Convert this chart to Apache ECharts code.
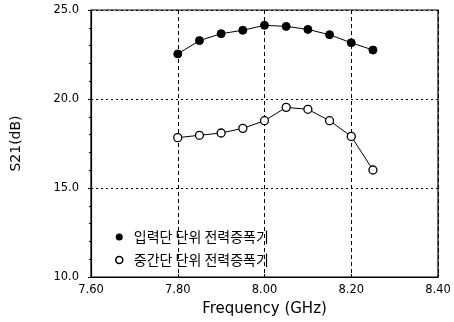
<!DOCTYPE html>
<html><head><meta charset="utf-8">
<script src="https://cdn.jsdelivr.net/npm/echarts@6/dist/echarts.min.js"></script>
<style>html,body{margin:0;padding:0;background:#fff}#c{width:454px;height:322px}</style>
</head><body><div id="c"></div>
<script>
const freq = [7.80, 7.85, 7.90, 7.95, 8.00, 8.05, 8.10, 8.15, 8.20, 8.25];
const inputStage = [22.53, 23.28, 23.67, 23.86, 24.14, 24.08, 23.91, 23.61, 23.16, 22.75];
const midStage = [17.83, 17.96, 18.09, 18.35, 18.78, 19.53, 19.42, 18.78, 17.90, 16.01];
const seriesNames = ['입력단 단위 전력증폭기', '중간단 단위 전력증폭기'];
const xTicks = [7.6, 7.8, 8.0, 8.2, 8.4];
const yTicks = [10, 15, 20, 25];

const chart = echarts.init(document.getElementById('c'));
const font = 'DejaVu Sans';
chart.setOption({
  animation: false,
  backgroundColor: '#fff',
  grid: {left: 91, right: 16, top: 10, bottom: 45, show: true, borderColor: '#000', borderWidth: 1.2},
  xAxis: {
    type: 'value', min: xTicks[0], max: xTicks[xTicks.length - 1], interval: 0.2,
    name: 'Frequency (GHz)', nameLocation: 'middle', nameGap: 25,
    nameTextStyle: {fontFamily: font, fontSize: 15, color: '#000'},
    axisLine: {lineStyle: {color: '#000', width: 1.2}},
    axisTick: {show: true, inside: true, length: 3, lineStyle: {color: '#000'}},
    axisLabel: {fontFamily: font, fontSize: 11.5, color: '#000', margin: 7, formatter: v => v.toFixed(2)},
    splitLine: {show: true, lineStyle: {color: '#000', type: [4, 3], width: 1}}
  },
  yAxis: {
    type: 'value', min: yTicks[0], max: yTicks[yTicks.length - 1], interval: 5,
    name: 'S21(dB)', nameLocation: 'middle', nameGap: 68, nameRotate: 90,
    nameTextStyle: {fontFamily: font, fontSize: 14, color: '#000'},
    axisLine: {lineStyle: {color: '#000', width: 1.2}},
    axisTick: {show: true, inside: false, length: 3, lineStyle: {color: '#000'}},
    minorTick: {show: true, splitNumber: 5, length: 2, lineStyle: {color: '#000'}},
    axisLabel: {fontFamily: font, fontSize: 11.5, color: '#000', margin: 12, formatter: v => v.toFixed(1)},
    splitLine: {show: true, lineStyle: {color: '#000', type: [2, 3], width: 1}}
  },
  legend: {
    orient: 'vertical', left: 110, top: 225, itemGap: 9, itemWidth: 7, itemHeight: 7,
    textStyle: {fontFamily: 'Noto Sans CJK KR', fontSize: 14, color: '#000', padding: [0, 0, 0, 6]},
    data: [
      {name: seriesNames[0], icon: 'circle', itemStyle: {color: '#000', borderColor: '#000'}},
      {name: seriesNames[1], icon: 'circle', itemStyle: {color: '#fff', borderColor: '#000', borderWidth: 1.5}}
    ]
  },
  series: [
    {name: seriesNames[0], type: 'line', data: freq.map((f, i) => [f, inputStage[i]]),
     symbol: 'circle', symbolSize: 8, lineStyle: {color: '#000', width: 1},
     itemStyle: {color: '#000', borderColor: '#000'}},
    {name: seriesNames[1], type: 'line', data: freq.map((f, i) => [f, midStage[i]]),
     symbol: 'circle', symbolSize: 8, lineStyle: {color: '#000', width: 1},
     itemStyle: {color: '#fff', borderColor: '#000', borderWidth: 1.3}}
  ]
});
</script></body></html>
